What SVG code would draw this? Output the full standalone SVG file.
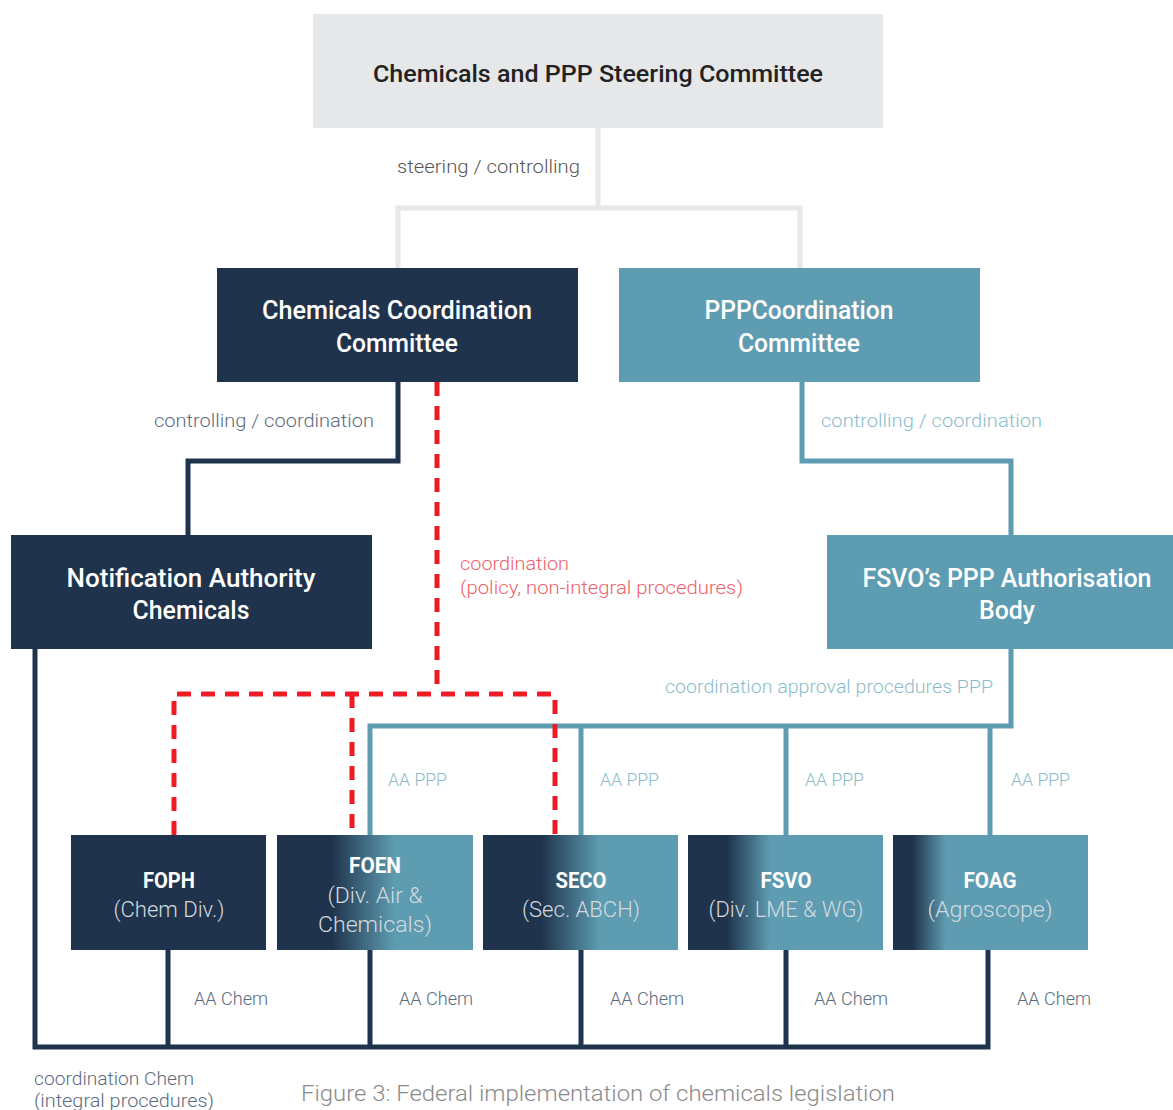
<svg xmlns="http://www.w3.org/2000/svg" width="1173" height="1110" viewBox="0 0 1173 1110">
<style>
text{font-family:Roboto,"Liberation Sans",sans-serif}
.hd{fill:#ffffff;font-size:25px;font-weight:500;text-anchor:middle}
.ti{fill:#ffffff;font-size:22px;font-weight:700;text-anchor:middle}
.sub{fill:#d3d9df;font-size:22px;font-weight:300;text-anchor:middle}
.lbl{font-size:18px;font-weight:300}
.nav{fill:#5b6b7e}
.tl{fill:#8bbccb}
.rd{fill:#f0606a}
.gy{fill:#555555}
.cn{fill:none;stroke-width:5;stroke-linejoin:miter;stroke-linecap:butt}
.cg{stroke:#e6e7e8}
.cnv{stroke:#1f344c}
.ctl{stroke:#5e9cb1}
.crd{stroke:#ed1c24;stroke-dasharray:14 10}
</style>
<defs>
<linearGradient id="gFOEN" x1="0" y1="0" x2="1" y2="0"><stop offset="0.28" stop-color="#1f344c"/><stop offset="0.6" stop-color="#5e9cb1"/></linearGradient>
<linearGradient id="gSECO" x1="0" y1="0" x2="1" y2="0"><stop offset="0.3" stop-color="#1f344c"/><stop offset="0.6" stop-color="#5e9cb1"/></linearGradient>
<linearGradient id="gFSVO" x1="0" y1="0" x2="1" y2="0"><stop offset="0.2" stop-color="#1f344c"/><stop offset="0.42" stop-color="#5e9cb1"/></linearGradient>
<linearGradient id="gFOAG" x1="0" y1="0" x2="1" y2="0"><stop offset="0.1" stop-color="#1f344c"/><stop offset="0.27" stop-color="#5e9cb1"/></linearGradient>
</defs>
<rect width="1173" height="1110" fill="#ffffff"/>
<g id="connectors">
<path class="cn cg" d="M598,128 V208 M398,268 V208 H800 V268"/>
<path class="cn cnv" d="M398,382 V461 H188 V535"/>
<path class="cn ctl" d="M802,382 V461 H1011 V535"/>
<path class="cn ctl" d="M1011,649 V726 H370 V835 M581,726 V835 M786,726 V835 M990,726 V835"/>
<path class="cn cnv" d="M35,649 V1047 H988 V950 M168,950 V1047 M370,950 V1047 M581,950 V1047 M786,950 V1047"/>
<path class="cn crd" d="M437,382 V694 M174,835 V694 H555 V835 M352,694 V835"/>
<text class="lbl gy" x="580" y="173" text-anchor="end" textLength="183" lengthAdjust="spacingAndGlyphs">steering / controlling</text>
<text class="lbl nav" x="374" y="427" text-anchor="end" textLength="220" lengthAdjust="spacingAndGlyphs">controlling / coordination</text>
<text class="lbl tl" x="821" y="427" textLength="221" lengthAdjust="spacingAndGlyphs">controlling / coordination</text>
<text class="lbl rd" x="460" y="570" textLength="109" lengthAdjust="spacingAndGlyphs">coordination</text>
<text class="lbl rd" x="460" y="594" textLength="283" lengthAdjust="spacingAndGlyphs">(policy, non-integral procedures)</text>
<text class="lbl tl" x="993" y="693" text-anchor="end" textLength="328" lengthAdjust="spacingAndGlyphs">coordination approval procedures PPP</text>
<text class="lbl tl" x="388" y="786" textLength="59" lengthAdjust="spacingAndGlyphs">AA PPP</text>
<text class="lbl tl" x="600" y="786" textLength="59" lengthAdjust="spacingAndGlyphs">AA PPP</text>
<text class="lbl tl" x="805" y="786" textLength="59" lengthAdjust="spacingAndGlyphs">AA PPP</text>
<text class="lbl tl" x="1011" y="786" textLength="59" lengthAdjust="spacingAndGlyphs">AA PPP</text>
<text class="lbl nav" x="194" y="1005" textLength="74" lengthAdjust="spacingAndGlyphs">AA Chem</text>
<text class="lbl nav" x="399" y="1005" textLength="74" lengthAdjust="spacingAndGlyphs">AA Chem</text>
<text class="lbl nav" x="610" y="1005" textLength="74" lengthAdjust="spacingAndGlyphs">AA Chem</text>
<text class="lbl nav" x="814" y="1005" textLength="74" lengthAdjust="spacingAndGlyphs">AA Chem</text>
<text class="lbl nav" x="1017" y="1005" textLength="74" lengthAdjust="spacingAndGlyphs">AA Chem</text>
<text class="lbl nav" x="34" y="1085" textLength="160" lengthAdjust="spacingAndGlyphs">coordination Chem</text>
<text class="lbl nav" x="34" y="1107" textLength="180" lengthAdjust="spacingAndGlyphs">(integral procedures)</text>
</g>
<g id="steering">
<rect x="313" y="14" width="570" height="114" fill="#e6e7e8"/>
<text x="598" y="82" font-size="24" font-weight="500" fill="#222222" text-anchor="middle" textLength="450" lengthAdjust="spacingAndGlyphs">Chemicals and PPP Steering Committee</text>
</g>
<g id="chem-coord">
<rect x="217" y="268" width="361" height="114" fill="#1f344c"/>
<text class="hd" x="397" y="319" textLength="270" lengthAdjust="spacingAndGlyphs">Chemicals Coordination</text>
<text class="hd" x="397" y="352" textLength="122" lengthAdjust="spacingAndGlyphs">Committee</text>
</g>
<g id="ppp-coord">
<rect x="619" y="268" width="361" height="114" fill="#5e9cb1"/>
<text class="hd" x="799" y="319" textLength="189" lengthAdjust="spacingAndGlyphs">PPPCoordination</text>
<text class="hd" x="799" y="352" textLength="122" lengthAdjust="spacingAndGlyphs">Committee</text>
</g>
<g id="notification">
<rect x="11" y="535" width="361" height="114" fill="#1f344c"/>
<text class="hd" x="191" y="587" textLength="249" lengthAdjust="spacingAndGlyphs">Notification Authority</text>
<text class="hd" x="191" y="619" textLength="117" lengthAdjust="spacingAndGlyphs">Chemicals</text>
</g>
<g id="fsvo-body">
<rect x="827" y="535" width="346" height="114" fill="#5e9cb1"/>
<text class="hd" x="1007" y="587" textLength="289" lengthAdjust="spacingAndGlyphs">FSVO’s PPP Authorisation</text>
<text class="hd" x="1007" y="619" textLength="56" lengthAdjust="spacingAndGlyphs">Body</text>
</g>
<g id="foph">
<rect x="71" y="835" width="195" height="115" fill="#1f344c"/>
<text class="ti" x="169" y="888" textLength="52" lengthAdjust="spacingAndGlyphs">FOPH</text>
<text class="sub" x="169" y="917" textLength="111" lengthAdjust="spacingAndGlyphs">(Chem Div.)</text>
</g>
<g id="foen">
<rect x="277" y="835" width="196" height="115" fill="url(#gFOEN)"/>
<text class="ti" x="375" y="873" textLength="52" lengthAdjust="spacingAndGlyphs">FOEN</text>
<text class="sub" x="375" y="903" textLength="95" lengthAdjust="spacingAndGlyphs">(Div. Air &amp;</text>
<text class="sub" x="375" y="932" textLength="114" lengthAdjust="spacingAndGlyphs">Chemicals)</text>
</g>
<g id="seco">
<rect x="483" y="835" width="195" height="115" fill="url(#gSECO)"/>
<text class="ti" x="581" y="888" textLength="51" lengthAdjust="spacingAndGlyphs">SECO</text>
<text class="sub" x="581" y="917" textLength="118" lengthAdjust="spacingAndGlyphs">(Sec. ABCH)</text>
</g>
<g id="fsvo">
<rect x="688" y="835" width="195" height="115" fill="url(#gFSVO)"/>
<text class="ti" x="786" y="888" textLength="51" lengthAdjust="spacingAndGlyphs">FSVO</text>
<text class="sub" x="786" y="917" textLength="155" lengthAdjust="spacingAndGlyphs">(Div. LME &amp; WG)</text>
</g>
<g id="foag">
<rect x="893" y="835" width="195" height="115" fill="url(#gFOAG)"/>
<text class="ti" x="990" y="888" textLength="53" lengthAdjust="spacingAndGlyphs">FOAG</text>
<text class="sub" x="990" y="917" textLength="125" lengthAdjust="spacingAndGlyphs">(Agroscope)</text>
</g>
<text x="301" y="1101" font-size="22" font-weight="300" fill="#8a8a8a" textLength="594" lengthAdjust="spacingAndGlyphs">Figure 3: Federal implementation of chemicals legislation</text>
</svg>
